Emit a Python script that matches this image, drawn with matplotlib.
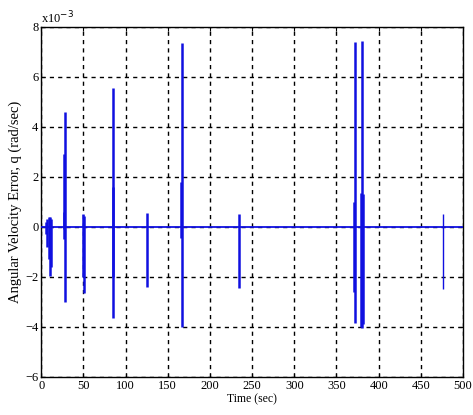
import matplotlib
matplotlib.use("Agg")
import matplotlib.pyplot as plt

# spike strokes: time (sec), high and low (x1e-3 rad/sec)
spike_t = [6, 7.5, 9, 11, 12,
           26.5, 27.5, 28,
           50, 51,
           85, 85.5,
           125,
           165.5, 166.5,
           234,
           371, 372,
           379, 380, 381]
spike_hi = [0.2, 0.3, 0.4, 0.4, 0.3,
            0.6, 2.9, 4.6,
            0.5, 0.45,
            1.6, 5.55,
            0.55,
            1.8, 7.35,
            0.5,
            1.0, 7.4,
            1.35, 7.45, 1.3]
spike_lo = [-0.3, -0.8, -1.3, -1.95, -1.6,
            -0.1, -0.5, -3.0,
            -2.0, -2.65,
            -2.0, -3.65,
            -2.4,
            -0.45, -4.0,
            -2.45,
            -2.6, -3.85,
            -4.0, -4.05, -3.9]
# last small thin spike
thin_t = [476]
thin_hi = [0.5]
thin_lo = [-2.5]

t_start, t_end = 0, 500

plt.rcParams['font.family'] = ['Liberation Serif', 'DejaVu Serif']

fig = plt.figure(figsize=(4.73, 4.15), dpi=100)
ax = fig.add_axes([0.087, 0.092, 0.892, 0.843])

blue = '#1010e0'
ax.plot([t_start, t_end], [0, 0], color=blue, lw=1.3, zorder=3)
ax.vlines(spike_t, spike_lo, spike_hi, color=blue, lw=1.8, zorder=3)
ax.vlines(thin_t, thin_lo, thin_hi, color=blue, lw=1.0, zorder=3)

ax.set_xlim(0, 500)
ax.set_ylim(-6, 8)
ax.set_xticks(range(0, 501, 50))
ax.set_yticks(range(-6, 9, 2))
ax.grid(True, color='black', linestyle=(0, (3, 3)), linewidth=1.0)
ax.tick_params(direction='in', length=3, labelsize=9, top=True, right=True, pad=2)
for s in ax.spines.values():
    s.set_linewidth(1.0)

ax.set_xlabel('Time (sec)', fontsize=8.5, labelpad=1)
ax.set_ylabel('Angular Velocity Error, q (rad/sec)', fontsize=10.5, labelpad=2)
ax.text(0.0, 1.003, r'x10$^{-3}$', transform=ax.transAxes, fontsize=9, ha='left', va='bottom')

fig.savefig('out.png', dpi=100)
